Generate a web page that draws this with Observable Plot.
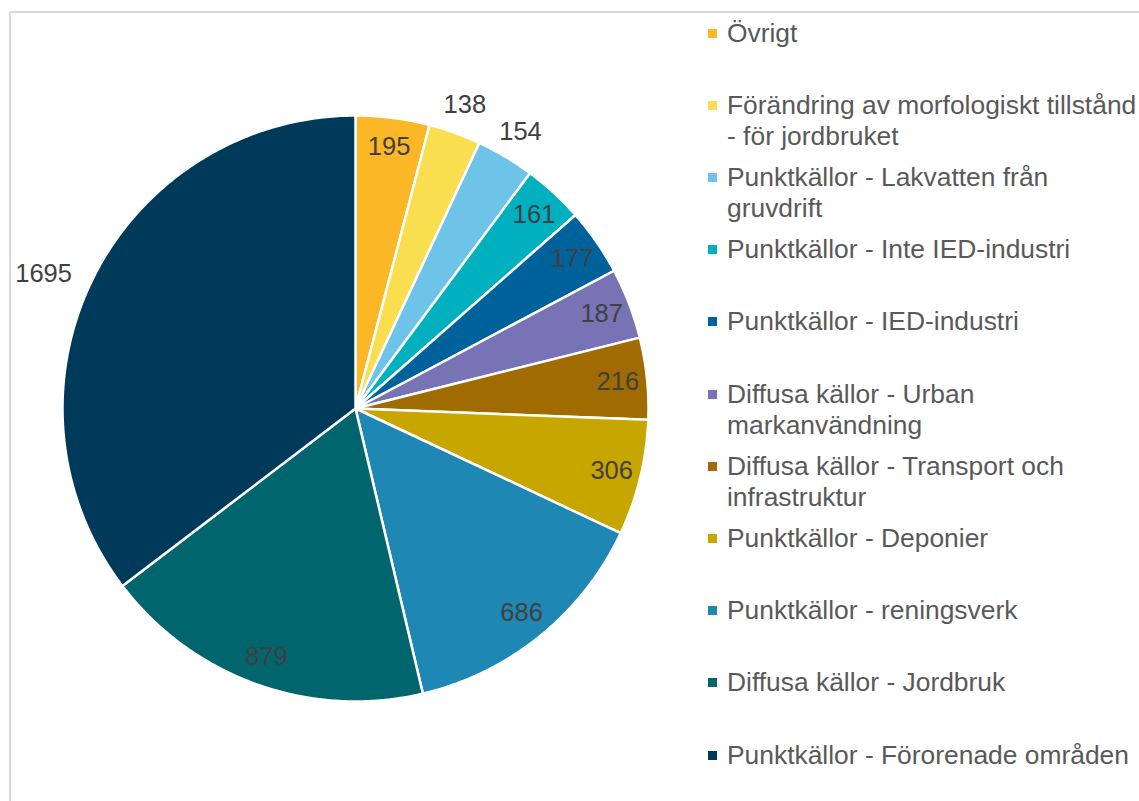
<!DOCTYPE html>
<html>
<head>
<meta charset="utf-8">
<script src="https://cdn.jsdelivr.net/npm/d3@7"></script>
<script src="https://cdn.jsdelivr.net/npm/@observablehq/plot@0.6"></script>
<style>
  html, body { margin: 0; padding: 0; background: #fff; }
  body { width: 1139px; height: 801px; position: relative; overflow: hidden; font-family: "Liberation Sans", Arial, sans-serif; }
  #frame { position: absolute; left: 9px; top: 11px; width: 1200px; height: 900px; border: 2px solid #d9d9d9; box-sizing: border-box; }
  #chart { position: absolute; left: 0; top: 0; }
  #legend { position: absolute; left: 0; top: 0; }
  .item { position: absolute; left: 708px; font-size: 26.4px; line-height: 31px; color: #595959; white-space: nowrap; }
  .sw { position: absolute; left: 0; top: 11px; width: 9px; height: 9px; }
  .lbl { position: absolute; left: 19px; top: 0; }
</style>
</head>
<body>
<div id="frame"></div>
<div id="chart"></div>
<div id="legend"></div>
<script>
const categories = [
  "Övrigt",
  "Förändring av morfologiskt tillstånd - för jordbruket",
  "Punktkällor - Lakvatten från gruvdrift",
  "Punktkällor - Inte IED-industri",
  "Punktkällor - IED-industri",
  "Diffusa källor - Urban markanvändning",
  "Diffusa källor - Transport och infrastruktur",
  "Punktkällor - Deponier",
  "Punktkällor - reningsverk",
  "Diffusa källor - Jordbruk",
  "Punktkällor - Förorenade områden"
];
const legendLines = [
  ["Övrigt"],
  ["Förändring av morfologiskt tillstånd", "- för jordbruket"],
  ["Punktkällor - Lakvatten från", "gruvdrift"],
  ["Punktkällor - Inte IED-industri"],
  ["Punktkällor - IED-industri"],
  ["Diffusa källor - Urban", "markanvändning"],
  ["Diffusa källor - Transport och", "infrastruktur"],
  ["Punktkällor - Deponier"],
  ["Punktkällor - reningsverk"],
  ["Diffusa källor - Jordbruk"],
  ["Punktkällor - Förorenade områden"]
];
const values = [195, 138, 154, 161, 177, 187, 216, 306, 686, 879, 1695];
const colors = ["#fbb725", "#f9de4f", "#6ec4e8", "#00b0bf", "#00629b", "#7773b4", "#a06b00", "#c8a600", "#1f87b4", "#01656e", "#003a5a"];
const labelOutside = [false, true, true, false, false, false, false, false, false, false, true];

// layout
const W = 1139, H = 801;
const cx = 355, cy = 408, R = 293;

const data = categories.map((c, i) => ({cat: c, value: values[i], i}));
const arcs = d3.pie().sort(null).value(d => d.value).startAngle(0).endAngle(2 * Math.PI)(data);

// slice outlines in unit-circle coordinates (x right, y up)
const pts = [];
for (const a of arcs) {
  const cat = a.data.cat;
  pts.push({cat, x: 0, y: 0});
  const n = Math.max(8, Math.ceil((a.endAngle - a.startAngle) / 0.01));
  for (let k = 0; k <= n; k++) {
    const t = a.startAngle + (a.endAngle - a.startAngle) * k / n;
    pts.push({cat, x: Math.sin(t), y: Math.cos(t)});
  }
  pts.push({cat, x: 0, y: 0});
}

const labels = arcs.map((a, i) => {
  const m = (a.startAngle + a.endAngle) / 2;
  const r = labelOutside[i] ? (i === 10 ? 1.15 : 1.10) : 0.90;
  return {text: String(values[i]), x: Math.sin(m) * r, y: Math.cos(m) * r, big: i === 10};
});

const chart = Plot.plot({
  width: W,
  height: H,
  margin: 0,
  x: {domain: [-cx / R, (W - cx) / R], axis: null},
  y: {domain: [-(H - cy) / R, cy / R], axis: null},
  color: {domain: categories, range: colors},
  style: {background: "transparent", fontFamily: "Liberation Sans, Arial, sans-serif"},
  marks: [
    Plot.line(pts, {x: "x", y: "y", z: "cat", fill: "cat", stroke: "white", strokeWidth: 2.5, strokeLinejoin: "round"}),
    Plot.text(labels.filter(d => !d.big), {x: "x", y: "y", text: "text", fill: "#404040", fontSize: 25.5}),
    Plot.text(labels.filter(d => d.big), {x: "x", y: "y", text: "text", fill: "#404040", fontSize: 25.5, dx: -10, dy: 15})
  ]
});
document.getElementById("chart").appendChild(chart);

// legend
const legend = document.getElementById("legend");
const step = 72.2, first = 33;
categories.forEach((c, i) => {
  const item = document.createElement("div");
  item.className = "item";
  item.style.top = (first + i * step - 15.5) + "px";
  const sw = document.createElement("div");
  sw.className = "sw";
  sw.style.background = colors[i];
  const lbl = document.createElement("div");
  lbl.className = "lbl";
  lbl.innerHTML = legendLines[i].map(s => s.replace(/&/g, "&amp;")).join("<br>");
  item.appendChild(sw);
  item.appendChild(lbl);
  legend.appendChild(item);
});
</script>
</body>
</html>
